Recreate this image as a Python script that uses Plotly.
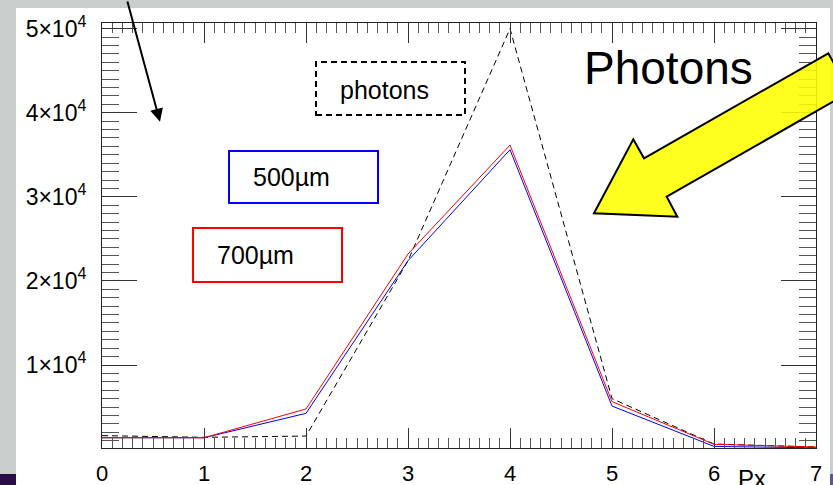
import plotly.graph_objects as go

# ---- data ----
px_bins = [0, 1, 2, 3, 4, 5, 6, 7]
photons = [1600, 1400, 1550, 22400, 50000, 6000, 600, 250]
um700 = [1350, 1350, 4770, 23200, 36150, 5640, 570, 250]
um500 = [1350, 1350, 4250, 22400, 35600, 5120, 320, 150]

y_tickvals = [10000, 20000, 30000, 40000, 50000]
y_ticktext = ["1×10<sup>4</sup>", "2×10<sup>4</sup>", "3×10<sup>4</sup>",
              "4×10<sup>4</sup>", "5×10<sup>4</sup>"]
x_tickvals = [0, 1, 2, 3, 4, 5, 6, 7]

W, H = 833, 485
ML, MR, MT, MB = 102, 17, 23, 37
PW, PH = W - ML - MR, H - MT - MB


def P(x, y):
    """pixel -> paper coords"""
    return (x - ML) / PW, (H - MB - y) / PH


FONT = "Liberation Sans, Arial, Helvetica, sans-serif"

fig = go.Figure()
fig.add_trace(go.Scatter(x=px_bins, y=photons, mode="lines", name="photons",
                         line=dict(color="black", width=1, dash="6px,4px")))
fig.add_trace(go.Scatter(x=px_bins, y=um500, mode="lines", name="500µm",
                         line=dict(color="#0000ff", width=1)))
fig.add_trace(go.Scatter(x=px_bins, y=um700, mode="lines", name="700µm",
                         line=dict(color="#ff0000", width=1)))

shapes = []
# white panel and corner strips
x0, y0 = P(16, 8); x1, y1 = P(830, 486)
shapes.append(dict(type="rect", xref="paper", yref="paper", x0=x0, y0=y1, x1=x1, y1=y0,
                   fillcolor="white", line=dict(width=0), layer="below"))
x0, y0 = P(0, 474); x1, y1 = P(16, 486)
shapes.append(dict(type="rect", xref="paper", yref="paper", x0=x0, y0=y1, x1=x1, y1=y0,
                   fillcolor="#2a0c46", line=dict(width=0), layer="below"))
x0, y0 = P(830, 474); x1, y1 = P(834, 486)
shapes.append(dict(type="rect", xref="paper", yref="paper", x0=x0, y0=y1, x1=x1, y1=y0,
                   fillcolor="#5a5a82", line=dict(width=0), layer="below"))


def box(xa, ya, xb, yb, color, dash="solid"):
    a0, b0 = P(xa, ya)
    a1, b1 = P(xb, yb)
    return dict(type="rect", xref="paper", yref="paper", x0=a0, y0=b1, x1=a1, y1=b0,
                line=dict(color=color, width=2, dash=dash), fillcolor="rgba(0,0,0,0)",
                layer="above")


shapes.append(box(316, 62, 465, 115, "black", "6px,4px"))
shapes.append(box(229, 151, 378, 203, "#0000ff"))
shapes.append(box(193, 228, 342, 282, "#ff0000"))

# yellow arrow
pts = [(594, 213.3), (633.3, 139.3), (644, 158.3), (828.3, 53.3), (850, 92),
       (666.7, 196.7), (677.3, 216.7)]
path = ""
for i, (a, b) in enumerate(pts):
    u, v = P(a, b)
    path += ("M" if i == 0 else "L") + f"{u:.5f},{v:.5f} "
path += "Z"
shapes.append(dict(type="path", xref="paper", yref="paper", path=path,
                   fillcolor="rgba(255,255,0,0.88)", line=dict(color="black", width=2),
                   layer="above"))

annotations = []


def label(text, cx, cy, size):
    u, v = P(cx, cy)
    annotations.append(dict(text=text, x=u, y=v, xref="paper", yref="paper",
                            xanchor="center", yanchor="middle", showarrow=False,
                            font=dict(family=FONT, size=size, color="black")))


label("photons", 384, 90, 25)
label("500µm", 291, 177, 25)
label("700µm", 255, 255, 25)
label("Photons", 668, 68, 46)
label("Px", 752, 478, 24)

# thin black arrow
u, v = P(160, 121.7)
annotations.append(dict(text="", x=u, y=v, xref="paper", yref="paper",
                        ax=-33, ay=-126, showarrow=True, arrowhead=2, arrowsize=1.3,
                        arrowwidth=2, arrowcolor="black"))

fig.update_layout(
    width=W, height=H,
    margin=dict(l=ML, r=MR, t=MT, b=MB, pad=0, autoexpand=False),
    paper_bgcolor="#c9cdcc",
    plot_bgcolor="white",
    showlegend=False,
    shapes=shapes,
    annotations=annotations,
    font=dict(family=FONT, color="black"),
)
fig.update_xaxes(range=[0, 7], tickvals=x_tickvals, ticks="inside", ticklen=20,
                 tickwidth=1, tickcolor="#333", showline=True, linecolor="#222",
                 linewidth=1, mirror="ticks", showgrid=False, zeroline=False,
                 automargin=False,
                 tickfont=dict(family=FONT, size=22, color="black"),
                 ticklabelstandoff=6,
                 minor=dict(dtick=0.1, ticklen=10, ticks="inside", tickcolor="#555",
                            tickwidth=1, showgrid=False))
fig.update_yaxes(range=[130, 50670], tickvals=y_tickvals, ticktext=y_ticktext,
                 ticks="inside", ticklen=35, tickwidth=1, tickcolor="#333",
                 showline=True, linecolor="#222", linewidth=1, mirror="ticks",
                 showgrid=False, zeroline=False, automargin=False,
                 tickfont=dict(family=FONT, size=23, color="black"),
                 ticklabelstandoff=10,
                 minor=dict(dtick=1000, ticklen=17, ticks="inside", tickcolor="#555",
                            tickwidth=1, showgrid=False))

fig.write_html("out.html", config={"displayModeBar": False},
               post_script="document.body.style.margin='0';document.body.style.padding='0';")
